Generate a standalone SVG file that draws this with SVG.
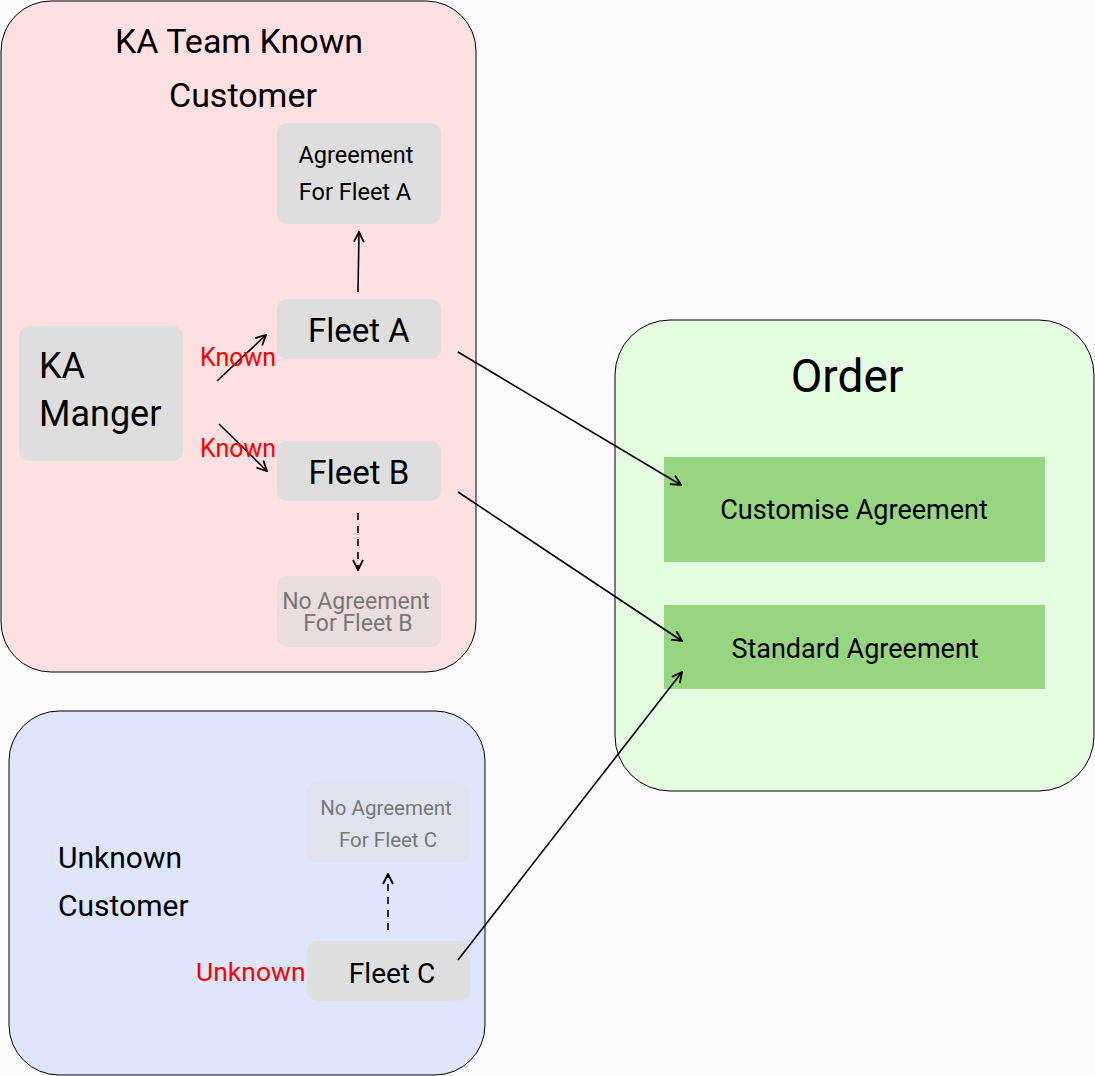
<svg xmlns="http://www.w3.org/2000/svg" width="1095" height="1076" viewBox="0 0 1095 1076">
<defs>
<marker id="arr" viewBox="0 0 12 12" refX="11" refY="6" markerWidth="12" markerHeight="12" markerUnits="userSpaceOnUse" orient="auto">
<path d="M1,1 L11,6 L1,11" fill="none" stroke="#000" stroke-width="1.8"/>
</marker>
</defs>
<style>
text{font-family:Roboto,"Liberation Sans",sans-serif;}
.box{fill:#dedede;}
.ghost{fill:#777;}
.red{fill:#ff0000;}
.cn{stroke:#000;stroke-width:1.6;fill:none;marker-end:url(#arr);}
.dash{stroke-dasharray:7,6;}
.mid{text-anchor:middle;}
</style>
<rect width="1095" height="1076" fill="#fcfcfc"/>
<g id="ka-team">
<rect x="1" y="1" width="475" height="671" rx="50" fill="#ffe0e0" stroke="#000" stroke-width="1"/>
<text x="239" y="53" class="mid" font-size="34">KA Team Known</text>
<text x="243" y="107" class="mid" font-size="34">Customer</text>
</g>
<g id="order">
<rect x="615" y="320" width="479" height="471" rx="55" fill="#e5fde0" stroke="#000" stroke-width="1"/>
<text x="847" y="392" class="mid" font-size="46">Order</text>
</g>
<g id="unknown-customer">
<rect x="9" y="711" width="476" height="364" rx="50" fill="#dde6fd" stroke="#000" stroke-width="1"/>
<text x="58" y="868" font-size="30">Unknown</text>
<text x="58" y="916" font-size="30">Customer</text>
</g>
<g id="agreement-a">
<rect x="277" y="123" width="164" height="101" rx="10" class="box"/>
<text x="356" y="163" class="mid" font-size="23.5">Agreement</text>
<text x="355" y="200" class="mid" font-size="23.5">For Fleet A</text>
</g>
<g id="fleet-a">
<rect x="277" y="299" width="164" height="60" rx="10" class="box"/>
<text x="359" y="342" class="mid" font-size="33">Fleet A</text>
</g>
<g id="fleet-b">
<rect x="277" y="441" width="164" height="60" rx="10" class="box"/>
<text x="359" y="484" class="mid" font-size="33">Fleet B</text>
</g>
<g id="ka-manager">
<rect x="19" y="326" width="164" height="135" rx="10" class="box"/>
<text x="39" y="378" font-size="36">KA</text>
<text x="39" y="426" font-size="36">Manger</text>
</g>
<g id="no-agreement-b">
<rect x="277" y="576" width="164" height="71" rx="10" fill="#ebdddd"/>
<text x="356" y="609" class="mid ghost" font-size="23">No Agreement</text>
<text x="358" y="631" class="mid ghost" font-size="23">For Fleet B</text>
</g>
<g id="no-agreement-c">
<rect x="306" y="783" width="163" height="80" rx="10" fill="#dfe3f0"/>
<text x="386" y="815" class="mid ghost" font-size="20.5">No Agreement</text>
<text x="388" y="847" class="mid ghost" font-size="20.5">For Fleet C</text>
</g>
<g id="fleet-c">
<rect x="307" y="941" width="163" height="60" rx="10" class="box"/>
<text x="392" y="983" class="mid" font-size="28">Fleet C</text>
</g>
<g id="customise-agreement">
<rect x="664" y="457" width="381" height="105" fill="#97d581"/>
<text x="854" y="519" class="mid" font-size="27">Customise Agreement</text>
</g>
<g id="standard-agreement">
<rect x="664" y="605" width="381" height="84" fill="#97d581"/>
<text x="855" y="658" class="mid" font-size="27">Standard Agreement</text>
</g>
<g id="connectors">
<line x1="358" y1="292" x2="359" y2="232" class="cn"/>
<line x1="217" y1="381" x2="266" y2="335" class="cn"/>
<line x1="219" y1="424" x2="267" y2="471" class="cn"/>
<line x1="358" y1="513" x2="358" y2="570" class="cn dash"/>
<line x1="388" y1="930" x2="388" y2="874" class="cn dash"/>
<line x1="458" y1="352" x2="681" y2="485" class="cn"/>
<line x1="458" y1="492" x2="682" y2="641" class="cn"/>
<line x1="458" y1="960" x2="682" y2="672" class="cn"/>
</g>
<g id="labels">
<text x="200" y="366" class="red" font-size="25">Known</text>
<text x="200" y="457" class="red" font-size="25">Known</text>
<text x="196" y="981" class="red" font-size="26.5">Unknown</text>
</g>
</svg>
